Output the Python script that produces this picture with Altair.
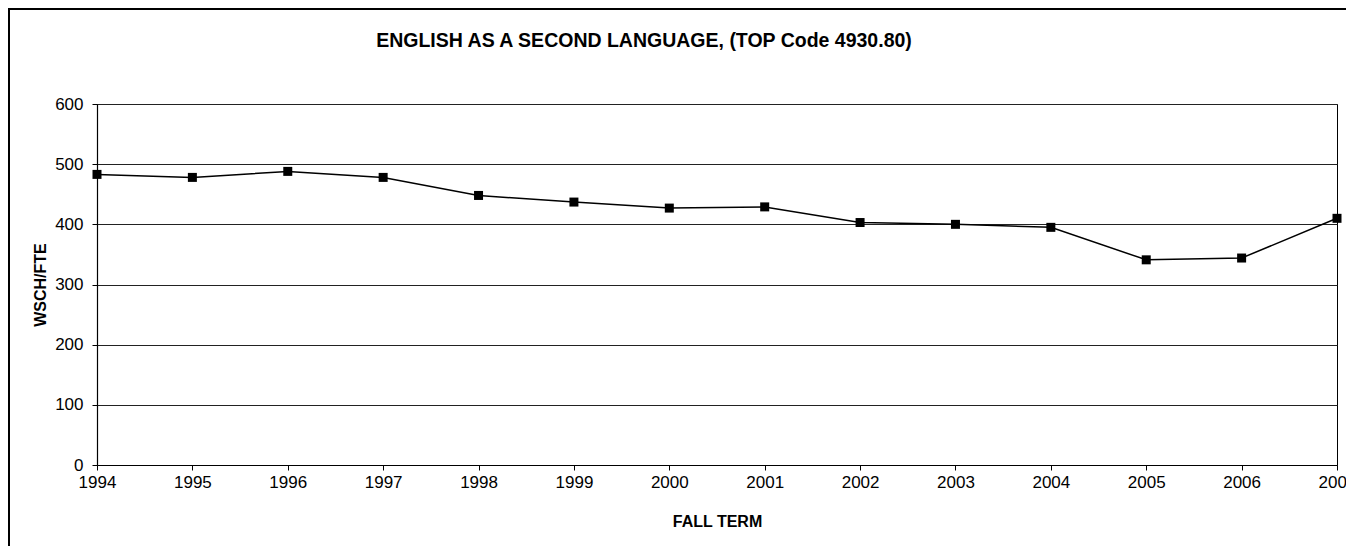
import altair as alt
import pandas as pd

years = [1994, 1995, 1996, 1997, 1998, 1999, 2000, 2001, 2002, 2003, 2004, 2005, 2006, 2007]
wsch_fte = [483, 478, 488, 478, 448, 437, 427, 429, 403, 400, 395, 341, 344, 410]
y_ticks = [0, 100, 200, 300, 400, 500, 600]
chart_title = "ENGLISH AS A SECOND LANGUAGE, (TOP Code 4930.80)"

df = pd.DataFrame({"year": years, "value": wsch_fte})

FONT = "Liberation Sans"
W, H = 1240, 361
PAD = {"left": 89, "top": 96, "right": 9, "bottom": 81}

base = alt.Chart(df)

line = base.mark_line(color="black", strokeWidth=1.5).encode(
    x=alt.X(
        "year:Q",
        scale=alt.Scale(domain=[1994, 2007], nice=False, zero=False),
        axis=alt.Axis(
            values=years, format="d", title="FALL TERM", grid=False,
            labelFlush=False, labelOverlap=False, tickSize=5, labelPadding=4,
            titleY=56, titleBaseline="middle",
        ),
    ),
    y=alt.Y(
        "value:Q",
        scale=alt.Scale(domain=[0, 600], nice=False),
        axis=alt.Axis(
            values=y_ticks, title="WSCH/FTE", grid=True, tickSize=5, labelPadding=9,
            titleX=-57, titleBaseline="middle", titleAnchor="middle",
        ),
    ),
)

points = base.mark_square(color="black", size=81, opacity=1).encode(
    x="year:Q", y="value:Q"
)

frame_data = alt.Data(values=[{"k": 1}])
frame_left = alt.Chart(frame_data).mark_rule(color="black", strokeWidth=2).encode(
    x=alt.value(-88), y=alt.value(-95), y2=alt.value(H + PAD["bottom"])
)
frame_top = alt.Chart(frame_data).mark_rule(color="black", strokeWidth=2).encode(
    x=alt.value(-89), x2=alt.value(W + PAD["right"]), y=alt.value(-95)
)
title_text = alt.Chart(frame_data).mark_text(
    font=FONT, fontSize=19.5, fontWeight="bold", color="black",
    align="center", baseline="middle",
).encode(
    x=alt.value(644 - 97), y=alt.value(41 - 104), text=alt.value(chart_title)
)

chart = (
    alt.layer(line, points, frame_left, frame_top, title_text)
    .properties(
        width=W,
        height=H,
        padding=PAD,
        autosize=alt.AutoSizeParams(type="none"),
        background="white",
    )
    .configure_view(stroke="black", strokeWidth=1)
    .configure_axis(
        domainColor="black", tickColor="black", gridColor="#222222",
        gridWidth=1, domainWidth=1.2,
        labelFont=FONT, labelFontSize=17, labelColor="black",
        titleFont=FONT, titleFontSize=16, titleFontWeight="bold", titleColor="black",
    )
)

chart.save("out.html", embed_options={"renderer": "svg", "actions": False})
